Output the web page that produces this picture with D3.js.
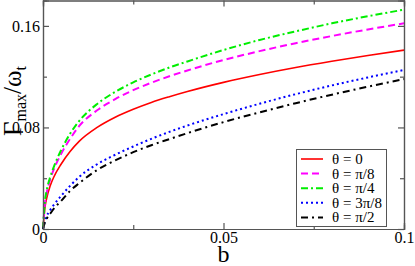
<!DOCTYPE html>
<html>
<head>
<meta charset="utf-8">
<script src="https://cdn.jsdelivr.net/npm/d3@7"></script>
<style>
  body { margin: 0; background: #fff; }
</style>
</head>
<body>
<script>
    // b values along the x axis
    const bValues = [0, 0.0005, 0.001, 0.002, 0.003, 0.005, 0.0075, 0.01, 0.015, 0.02,
      0.025, 0.03, 0.035, 0.04, 0.05, 0.06, 0.07, 0.08, 0.09, 0.1];

    // Gamma_max / omega_t for each theta
    const theta0 = [0, 0.016, 0.024, 0.034, 0.041, 0.051, 0.061, 0.069, 0.0800, 0.0880,
      0.0943, 0.0997, 0.1042, 0.1083, 0.1155, 0.1217, 0.1272, 0.1321, 0.1367, 0.1409];
    const thetaPi8 = [0, 0.019, 0.028, 0.039, 0.047, 0.059, 0.071, 0.081, 0.0935, 0.1023,
      0.1094, 0.1152, 0.1203, 0.1249, 0.1331, 0.1401, 0.1464, 0.152, 0.1572, 0.162];
    const thetaPi4 = [0, 0.021, 0.030, 0.041, 0.049, 0.062, 0.075, 0.085, 0.0985, 0.108,
      0.1155, 0.1217, 0.1272, 0.132, 0.141, 0.1489, 0.1557, 0.162, 0.1676, 0.1728];
    const theta3Pi8 = [0, 0.006, 0.010, 0.015, 0.019, 0.026, 0.034, 0.041, 0.051, 0.0585,
      0.065, 0.071, 0.0765, 0.0815, 0.0905, 0.0987, 0.1062, 0.1131, 0.1194, 0.1253];
    const thetaPi2 = [0, 0.005, 0.008, 0.012, 0.016, 0.022, 0.030, 0.036, 0.0465, 0.054,
      0.0605, 0.066, 0.0708, 0.0755, 0.0842, 0.0919, 0.0991, 0.1058, 0.1121, 0.1181];

    const seriesNames = ["θ = 0", "θ = π/8", "θ = π/4", "θ = 3π/8", "θ = π/2"];

    // Tick labels
    const xTicks = [0, 0.05, 0.1];
    const xTickLabels = ["0", "0.05", "0.1"];
    const xMinor = [0.025, 0.075];
    const yTicks = [0, 0.08, 0.16];
    const yTickLabels = ["0", "0.08", "0.16"];
    const yMinor = [0.04, 0.12];

    const width = 415;
    const height = 266;
    const plotLeft = 43, plotRight = 404, plotTop = 0.5, plotBottom = 229;
    const serif = "'Times New Roman', 'Liberation Serif', 'DejaVu Serif', serif";

    const styles = [
      { color: "#ff0000", dash: null, w: 1.6 },
      { color: "#ff00ff", dash: "7,4", w: 2 },
      { color: "#00ee00", dash: "7,3,2,3", w: 2 },
      { color: "#0000ff", dash: "2,3", w: 2 },
      { color: "#000000", dash: "7,4,2,4", w: 2 }
    ];
    const seriesValues = [theta0, thetaPi8, thetaPi4, theta3Pi8, thetaPi2];

    const svg = d3.select("body")
      .append("svg")
      .attr("width", width)
      .attr("height", height)
      .attr("font-family", serif);

    const x = d3.scaleLinear().domain([0, 0.1]).range([plotLeft, plotRight]);
    const y = d3.scaleLinear().domain([0, 0.18]).range([plotBottom, plotTop]);

    // Curves
    const line = d3.line()
      .x(d => x(d[0]))
      .y(d => y(d[1]))
      .curve(d3.curveMonotoneX);

    seriesValues.forEach((vals, i) => {
      svg.append("path")
        .datum(bValues.map((b, j) => [b, vals[j]]))
        .attr("fill", "none")
        .attr("stroke", styles[i].color)
        .attr("stroke-width", styles[i].w)
        .attr("stroke-dasharray", styles[i].dash)
        .attr("d", line);
    });

    const axisColor = "#555";

    // Axes with inward ticks
    svg.append("g")
      .attr("transform", `translate(0,${plotBottom})`)
      .call(d3.axisBottom(x).tickValues(xTicks).tickSize(-6).tickPadding(3)
        .tickFormat((d, i) => xTickLabels[i]));
    svg.append("g")
      .attr("transform", `translate(0,${plotBottom})`)
      .call(d3.axisBottom(x).tickValues(xMinor).tickSize(-4).tickFormat(""));
    svg.append("g")
      .attr("transform", `translate(0,${plotTop})`)
      .call(d3.axisTop(x).tickValues(xTicks).tickSize(-6).tickFormat(""));
    svg.append("g")
      .attr("transform", `translate(0,${plotTop})`)
      .call(d3.axisTop(x).tickValues(xMinor).tickSize(-4).tickFormat(""));

    svg.append("g")
      .attr("transform", `translate(${plotLeft},0)`)
      .call(d3.axisLeft(y).tickValues(yTicks).tickSize(-6).tickPadding(3)
        .tickFormat((d, i) => yTickLabels[i]));
    svg.append("g")
      .attr("transform", `translate(${plotLeft},0)`)
      .call(d3.axisLeft(y).tickValues(yMinor).tickSize(-4).tickFormat(""));
    svg.append("g")
      .attr("transform", `translate(${plotRight},0)`)
      .call(d3.axisRight(y).tickValues(yTicks).tickSize(-6).tickFormat(""));
    svg.append("g")
      .attr("transform", `translate(${plotRight},0)`)
      .call(d3.axisRight(y).tickValues(yMinor).tickSize(-4).tickFormat(""));

    svg.selectAll("g").attr("font-family", serif);
    svg.selectAll(".domain").attr("stroke", axisColor).attr("stroke-width", 1.2);
    svg.selectAll(".tick line").attr("stroke", axisColor).attr("stroke-width", 1.2);
    svg.selectAll(".tick text")
      .attr("fill", "#000")
      .attr("font-size", 16);

    // Axis titles
    svg.append("text")
      .attr("x", x(0.05))
      .attr("y", 262)
      .attr("text-anchor", "middle")
      .attr("font-size", 24)
      .text("b");

    const yLabel = svg.append("text")
      .attr("transform", "translate(21,101) rotate(-90)")
      .attr("text-anchor", "middle")
      .attr("font-size", 25);
    yLabel.append("tspan").text("Γ");
    yLabel.append("tspan").attr("dy", 5).attr("font-size", 16).text("max");
    yLabel.append("tspan").attr("dy", -5).text("/ω");
    yLabel.append("tspan").attr("dy", 5).attr("font-size", 16).text("t");

    // Legend
    const legend = svg.append("g");
    legend.append("rect")
      .attr("x", 296.5).attr("y", 149.5)
      .attr("width", 90).attr("height", 77)
      .attr("fill", "#fff")
      .attr("stroke", axisColor)
      .attr("stroke-width", 1);

    seriesNames.forEach((name, i) => {
      const cy = 159 + i * 14.6;
      legend.append("line")
        .attr("x1", 301).attr("x2", 323)
        .attr("y1", cy).attr("y2", cy)
        .attr("stroke", styles[i].color)
        .attr("stroke-width", styles[i].w)
        .attr("stroke-dasharray", styles[i].dash);
      legend.append("text")
        .attr("x", 332)
        .attr("y", cy + 5)
        .attr("font-size", 15)
        .text(name);
    });
</script>
</body>
</html>
